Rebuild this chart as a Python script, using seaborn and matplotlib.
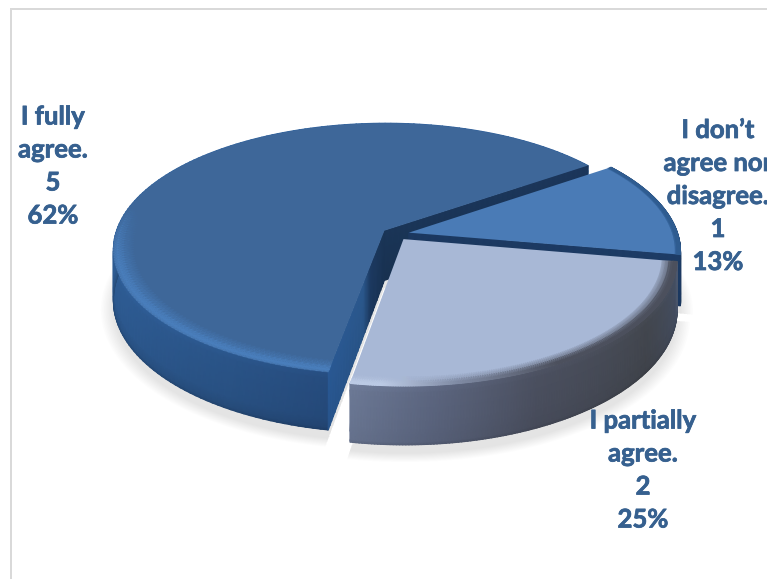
import numpy as np
import matplotlib
matplotlib.use("Agg")
import matplotlib.pyplot as plt
import matplotlib.patheffects as pe
import matplotlib.transforms as mtransforms
from matplotlib.colors import to_rgb
from matplotlib.path import Path
import seaborn as sns

# Survey answers
ANSWERS = ["I fully\nagree.", "I partially\nagree.", "I don\u2019t\nagree nor\ndisagree."]
COUNTS = [5, 2, 1]
PERCENT_LABELS = ["62%", "25%", "13%"]

# Styling
TOP_COLORS = ["#3e6799", "#a8b8d6", "#4a7bb6"]
TEXT_COLOR = "#36608f"
LABEL_CENTERS = [(53, 166), (643, 470), (718, 196)]

# Perspective of the disc, in pixels
X0, Y0 = 395.7, 234.0
SCALE_X, SCALE_Y = 269.0, 124.0
DEPTH = 0.145
THICKNESS = 50.0


def project(xy, z=0.0):
    """Map disc coordinates (and a drop below the top face) to pixels."""
    xy = np.asarray(xy, dtype=float)
    s = 1.0 / (1.0 + DEPTH * xy[..., 1])
    return np.stack([X0 + SCALE_X * xy[..., 0] * s,
                     Y0 - SCALE_Y * xy[..., 1] * s + THICKNESS * z * s], axis=-1)


class TiltTransform(mtransforms.Transform):
    input_dims = output_dims = 2

    def transform_non_affine(self, values):
        return project(values)

    def transform_path_non_affine(self, path):
        fine = path.to_polygons(mtransforms.Affine2D().scale(2000), closed_only=False)[0]
        return Path(project(fine / 2000.0))


def ramp(u, stops):
    """Colour ramp given as [(position, hex), ...]; returns RGB along u."""
    keys = [k for k, _ in stops]
    rgb = np.array([to_rgb(c) for _, c in stops])
    return np.stack([np.interp(u, keys, rgb[:, i]) for i in range(3)], axis=-1)


def disc_point(center, theta, r=1.0):
    t = np.radians(theta)
    return np.stack([center[0] + r * np.cos(t), center[1] + r * np.sin(t)], axis=-1)


def arc_wall(ax, wedge, stops, zorder, bottom=0.8):
    th = np.linspace(wedge.theta1, wedge.theta2, 160)
    zs = np.array([0.0, 0.12, 0.8, 0.97, 1.0])
    shade = np.array([1.05, 1.0, 0.95, bottom + 0.08, bottom])
    pts = np.stack([project(disc_point(wedge.center, th), z) for z in zs])
    rgb = np.stack([np.clip(ramp(th, stops) * f, 0, 1) for f in shade])
    ax.pcolormesh(pts[..., 0], pts[..., 1], rgb, shading="gouraud", zorder=zorder)


def radial_wall(ax, wedge, theta, stops, zorder):
    ts = np.linspace(0, 1, 40)
    zs = np.array([0.0, 1.0])
    base = np.asarray(wedge.center)
    tip = disc_point(wedge.center, theta)
    line = base + ts[:, None] * (tip - base)
    pts = np.stack([project(line, z) for z in zs])
    rgb = np.stack([ramp(ts, stops), ramp(ts, stops) * 0.92])
    ax.pcolormesh(pts[..., 0], pts[..., 1], rgb, shading="gouraud", zorder=zorder)


def rim(ax, wedge, stops, weight_stops, radii, alphas, zorder):
    th = np.linspace(wedge.theta1, wedge.theta2, 200)
    keys = [k for k, _ in weight_stops]
    vals = [v for _, v in weight_stops]
    weight = np.interp(th, keys, vals)
    pts = np.stack([project(disc_point(wedge.center, th, r)) for r in radii])
    rgb = ramp(th, stops)
    rgba = np.stack([np.concatenate([rgb, (a * weight)[:, None]], axis=1) for a in alphas])
    ax.pcolormesh(pts[..., 0], pts[..., 1], rgba, shading="gouraud", zorder=zorder)


def ground_shadow(ax, wedge, zorder):
    th = np.linspace(wedge.theta1, wedge.theta2, 160)
    for r in np.linspace(1.045, 1.0, 9):
        ring = disc_point(wedge.center, th, r)
        poly = np.vstack([project(ring, 1.15), project(np.asarray(wedge.center)[None], 1.15)])
        ax.fill(poly[:, 0], poly[:, 1], color="#808080", alpha=0.02, lw=0, zorder=zorder)


sns.set_theme(style="white")
fig = plt.figure(figsize=(7.67, 5.79), dpi=100, facecolor="white")
ax = fig.add_axes([0, 0, 1, 1])

wedges, _ = ax.pie(COUNTS, startangle=35, explode=[0.05] * 3,
                   colors=sns.color_palette(TOP_COLORS), radius=1.0,
                   wedgeprops=dict(linewidth=0))
full, partial, neutral = wedges

tilt = TiltTransform() + ax.transData
for w in wedges:
    w.set_transform(tilt)
    w.set_antialiased(True)

for w in (full, partial, neutral):
    ground_shadow(ax, w, 1)

# Largest slice: side walls, then its top face and highlighted edge
arc_wall(ax, full, [(35, "#2b5a94"), (150, "#2f6099"), (205, "#2e5c94"),
                    (240, "#2a5488"), (260, "#264c7e")], 2)
radial_wall(ax, full, full.theta1, [(0, "#1a3557"), (1, "#1b365b")], 2.1)
radial_wall(ax, full, full.theta2, [(0, "#1a3557"), (0.28, "#1d3b63"),
                                    (0.42, "#2c5a90"), (1, "#2a5a96")], 2.2)
full.set_zorder(3)
rim(ax, full, [(35, "#4a7fbd"), (260, "#4a7fbd")],
    [(35, 0), (168, 0), (195, 0.8), (215, 1), (260, 1)],
    [1.0, 0.985, 0.965, 0.925], [0.35, 0.9, 0.45, 0.0], 3.1)

# Smallest slice
arc_wall(ax, neutral, [(350, "#1d3c66"), (395, "#1d3c66")], 4, bottom=0.9)
radial_wall(ax, neutral, neutral.theta1, [(0, "#1b3860"), (1, "#1d3c66")], 4.1)
neutral.set_zorder(5)
rim(ax, neutral, [(350, "#2f5c90"), (395, "#2f5c90")], [(350, 1), (395, 1)],
    [1.0, 0.992, 0.98], [0.7, 0.4, 0.0], 5.1)

# Second slice, in front of the others
arc_wall(ax, partial, [(260, "#6c7996"), (275, "#5c6680"), (295, "#4b5060"),
                       (325, "#43474f"), (345, "#465064"), (350, "#4e5a70")], 6, bottom=0.85)
partial.set_zorder(7)
rim(ax, partial, [(260, "#bccbe6"), (266, "#bccbe6"), (280, "#7f8aa3"),
                  (300, "#4c505d"), (350, "#4c505d")],
    [(260, 1), (350, 1)],
    [1.0, 0.987, 0.97, 0.945], [1.0, 0.75, 0.25, 0.0], 7.1)

# Chart frame: only the left and top lines are present
ax.plot([11, 11, 767], [579, 9, 9], color="#d9d9d9", lw=1.44, zorder=0,
        solid_joinstyle="miter")

bolder = [pe.withStroke(linewidth=0.55, foreground=TEXT_COLOR)]
for name, count, pct, (x, y) in zip(ANSWERS, COUNTS, PERCENT_LABELS, LABEL_CENTERS):
    ax.text(x, y, f"{name}\n{count}\n{pct}", ha="center", va="center", ma="center",
            family="Lato", fontweight="bold", fontsize=18.5, linespacing=1.45,
            color=TEXT_COLOR, zorder=10, clip_on=True, path_effects=bolder)

ax.set_aspect("auto")
ax.set_xlim(0, 767)
ax.set_ylim(579, 0)
ax.set_frame_on(False)
ax.set_xticks([])
ax.set_yticks([])
fig.savefig("out.png", dpi=100, facecolor="white")
